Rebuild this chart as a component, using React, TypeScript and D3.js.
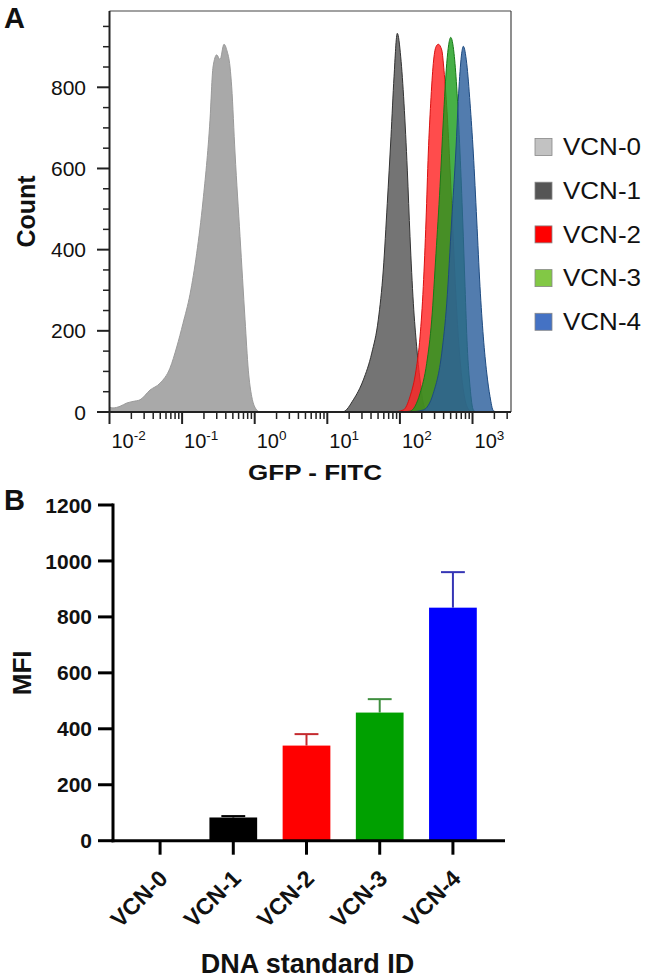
import React from "react";
import * as d3 from "d3";

// ---------- Panel A data: histograms (log10 GFP-FITC intensity, count) ----------
const VCN0_HIST: [number, number][] = [
  [-2.0, 12], [-1.952, 10], [-1.855, 14], [-1.763, 22], [-1.676, 26], [-1.58, 30],
  [-1.442, 54], [-1.304, 71], [-1.167, 108], [-1.074, 160], [-0.988, 218], [-0.891, 290],
  [-0.799, 391], [-0.712, 520], [-0.616, 719], [-0.574, 850], [-0.523, 880], [-0.478, 868],
  [-0.423, 906], [-0.382, 890], [-0.34, 850], [-0.317, 801], [-0.271, 638], [-0.202, 432],
  [-0.133, 227], [-0.088, 103], [-0.041, 38], [0.028, 5], [0.073, 0],
];
const VCN1_HIST: [number, number][] = [
  [1.037, 0], [1.22, 1], [1.358, 30], [1.496, 79], [1.612, 145], [1.702, 227], [1.771, 350],
  [1.826, 514], [1.877, 678], [1.919, 826], [1.964, 933], [2.011, 875], [2.056, 761],
  [2.102, 596], [2.139, 432], [2.185, 268], [2.231, 161], [2.277, 79], [2.322, 22],
  [2.369, 3], [2.401, 0],
];
const VCN2_HIST: [number, number][] = [
  [1.909, 0], [2.047, 5], [2.139, 38], [2.222, 103], [2.277, 185], [2.322, 309], [2.36, 473],
  [2.391, 638], [2.424, 761], [2.46, 859], [2.497, 900], [2.529, 906], [2.576, 892],
  [2.607, 842], [2.649, 740], [2.69, 600], [2.731, 440], [2.773, 280], [2.814, 160],
  [2.855, 80], [2.897, 30], [2.952, 5], [2.993, 0],
];
const VCN3_HIST: [number, number][] = [
  [2.001, 0], [2.139, 2], [2.277, 46], [2.369, 120], [2.438, 227], [2.497, 391], [2.552, 555],
  [2.598, 719], [2.645, 859], [2.672, 905], [2.7, 923], [2.745, 884], [2.782, 801],
  [2.828, 638], [2.865, 473], [2.897, 309], [2.928, 161], [2.966, 62], [3.011, 5], [3.048, 0],
];
const VCN4_HIST: [number, number][] = [
  [2.139, 0], [2.322, 5], [2.46, 46], [2.576, 145], [2.645, 268], [2.713, 473], [2.769, 638],
  [2.814, 801], [2.851, 884], [2.873, 901], [2.92, 859], [2.966, 761], [3.011, 638],
  [3.058, 473], [3.103, 309], [3.149, 185], [3.196, 96], [3.241, 38], [3.287, 3], [3.333, 0],
];

const SERIES = ["VCN-0", "VCN-1", "VCN-2", "VCN-3", "VCN-4"];
const HISTS = [VCN0_HIST, VCN1_HIST, VCN2_HIST, VCN3_HIST, VCN4_HIST];
const HIST_FILL = ["#a9a9a9", "#555555", "#ff2424", "#1f9f1f", "#2c5f9c"];
const HIST_STROKE = ["#9a9a9a", "#333333", "#d81010", "#177a17", "#1d4a80"];
const LEGEND_FILL = ["#c2c2c2", "#555555", "#ff0000", "#82c845", "#4472c4"];
const A_YTICKS = [0, 200, 400, 600, 800];
const A_XDECADES = [-2, -1, 0, 1, 2, 3];

// ---------- Panel B data: MFI bars ----------
const CATEGORIES = ["VCN-0", "VCN-1", "VCN-2", "VCN-3", "VCN-4"];
const MFI_MEAN = [0, 83, 340, 458, 833];
const MFI_SD = [0, 5, 41, 48, 127];
const BAR_FILL = ["#000000", "#000000", "#ff0000", "#00a000", "#0000ff"];
const ERR_COLOR = ["#000000", "#000000", "#c42a2f", "#3f8f3f", "#3535b5"];
const B_YTICKS = [0, 200, 400, 600, 800, 1000, 1200];

const FONT = "'Liberation Sans', Arial, Helvetica, sans-serif";

export default function App() {
  // Panel A scales
  const ax = d3.scaleLog().domain([1e-2, Math.pow(10, 3.53)]).range([109.5, 511]);
  const ay = d3.scaleLinear().domain([0, 988]).range([412, 11]);
  const area = d3
    .area<[number, number]>()
    .x((d) => ax(Math.pow(10, d[0])))
    .y0(ay(0))
    .y1((d) => ay(d[1]))
    .curve(d3.curveMonotoneX);

  const [xd0, xd1] = ax.domain();
  const minorX: number[] = [];
  A_XDECADES.forEach((e) => {
    for (let k = 2; k <= 9; k++) {
      const v = k * Math.pow(10, e);
      if (v >= xd0 && v <= xd1) minorX.push(v);
    }
  });
  const minorY = d3.range(50, 1000, 50).filter((v) => v % 200 !== 0 && v <= ay.domain()[1]);

  // Panel B scales
  const by = d3.scaleLinear().domain([0, 1200]).range([840.7, 505]);
  const bx = d3
    .scaleBand<string>()
    .domain(CATEGORIES)
    .range([113, 500])
    .paddingInner(0.348)
    .paddingOuter(0.317);
  const bw = bx.bandwidth();

  return (
    <svg width={645} height={979} style={{ display: "block", position: "absolute", left: 0, top: 0 }} fontFamily={FONT}>
      <rect x={0} y={0} width={645} height={979} fill="#ffffff" />

      {/* ===== Panel A ===== */}
      <text x={4} y={28} fontSize={29} fontWeight="bold" fill="#111">A</text>

      {HISTS.map((h, i) => (
        <path
          key={SERIES[i]}
          d={area(h) || ""}
          fill={HIST_FILL[i]}
          fillOpacity={i === 0 ? 1 : 0.82}
          stroke={HIST_STROKE[i]}
          strokeWidth={1}
        />
      ))}

      {/* frame */}
      <line x1={ax.range()[0]} x2={ax.range()[1]} y1={ay.range()[1]} y2={ay.range()[1]} stroke="#444" strokeWidth={1.2} />
      <line x1={ax.range()[1]} x2={ax.range()[1]} y1={ay.range()[1]} y2={ay.range()[0]} stroke="#444" strokeWidth={1.2} />
      <line x1={ax.range()[0]} x2={ax.range()[0]} y1={ay.range()[1]} y2={ay.range()[0] + 1} stroke="#222" strokeWidth={2} />
      <line x1={97} x2={ax.range()[1]} y1={ay(0)} y2={ay(0)} stroke="#222" strokeWidth={2} />

      {/* y ticks */}
      {A_YTICKS.map((v) => (
        <g key={"ay" + v}>
          <line x1={97} x2={ax.range()[0]} y1={ay(v)} y2={ay(v)} stroke="#222" strokeWidth={2} />
          <text x={86} y={ay(v)} dy="0.36em" textAnchor="end" fontSize={21} fill="#111">{v}</text>
        </g>
      ))}
      {minorY.map((v) => (
        <line key={"aym" + v} x1={103} x2={ax.range()[0]} y1={ay(v)} y2={ay(v)} stroke="#222" strokeWidth={1.5} />
      ))}

      {/* x ticks */}
      {A_XDECADES.map((e) => {
        const x = ax(Math.pow(10, e));
        return (
          <g key={"ax" + e}>
            <line x1={x} x2={x} y1={ay(0)} y2={ay(0) + 12} stroke="#222" strokeWidth={2} />
            <text x={x + 2} y={448} fontSize={20} fill="#111">
              10<tspan dy={-8} fontSize={13.5}>{e}</tspan>
            </text>
          </g>
        );
      })}
      {minorX.map((v, i) => (
        <line key={"axm" + i} x1={ax(v)} x2={ax(v)} y1={ay(0)} y2={ay(0) + 7} stroke="#222" strokeWidth={1.5} />
      ))}

      <text x={315} y={480} textAnchor="middle" fontSize={22} fontWeight="bold" fill="#111" textLength={134} lengthAdjust="spacingAndGlyphs">GFP - FITC</text>
      <text transform={`translate(35, ${(ay.range()[0] + ay.range()[1]) / 2}) rotate(-90)`} textAnchor="middle" fontSize={25} fontWeight="bold" fill="#111">Count</text>

      {/* legend */}
      {SERIES.map((s, i) => {
        const cy = 147 + i * 43.7;
        return (
          <g key={"lg" + s}>
            <rect x={535} y={cy - 8.5} width={17} height={17} fill={LEGEND_FILL[i]} stroke="#888" strokeWidth={0.8} />
            <text x={563} y={cy} dy="0.36em" fontSize={23} fill="#111" textLength={78} lengthAdjust="spacingAndGlyphs">{s}</text>
          </g>
        );
      })}

      {/* ===== Panel B ===== */}
      <text x={4} y={510} fontSize={29} fontWeight="bold" fill="#111">B</text>

      {CATEGORIES.map((c, i) => {
        const x0 = bx(c) as number;
        const top = by(MFI_MEAN[i]);
        const errTop = by(MFI_MEAN[i] + MFI_SD[i]);
        const cx = x0 + bw / 2;
        return (
          <g key={"bar" + c}>
            {MFI_MEAN[i] > 0 && (
              <rect x={x0} y={top} width={bw} height={by(0) - top} fill={BAR_FILL[i]} />
            )}
            {MFI_SD[i] > 0 && (
              <g stroke={ERR_COLOR[i]} strokeWidth={2}>
                <line x1={cx} x2={cx} y1={top} y2={errTop} />
                <line x1={cx - bw / 4} x2={cx + bw / 4} y1={errTop} y2={errTop} />
              </g>
            )}
          </g>
        );
      })}

      {/* B axes */}
      <line x1={113} x2={113} y1={by(1200) - 1.5} y2={by(0) + 1.5} stroke="#000" strokeWidth={3} />
      <line x1={111.5} x2={505} y1={by(0)} y2={by(0)} stroke="#000" strokeWidth={3} />
      {B_YTICKS.map((v) => (
        <g key={"by" + v}>
          <line x1={98} x2={113} y1={by(v)} y2={by(v)} stroke="#000" strokeWidth={3} />
          <text x={92} y={by(v)} dy="0.36em" textAnchor="end" fontSize={21} fontWeight="bold" fill="#111">{v}</text>
        </g>
      ))}
      {CATEGORIES.map((c) => {
        const cx = (bx(c) as number) + bw / 2;
        return (
          <g key={"bxt" + c}>
            <line x1={cx} x2={cx} y1={by(0)} y2={by(0) + 14} stroke="#000" strokeWidth={3} />
            <text transform={`translate(${cx + 9}, 880) rotate(-45)`} textAnchor="end" fontSize={23} fontWeight="bold" fill="#111">{c}</text>
          </g>
        );
      })}
      <text x={307.5} y={973} textAnchor="middle" fontSize={27} fontWeight="bold" fill="#111">DNA standard ID</text>
      <text transform={`translate(31, ${(by(0) + by(1200)) / 2}) rotate(-90)`} textAnchor="middle" fontSize={26} fontWeight="bold" fill="#111">MFI</text>
    </svg>
  );
}
